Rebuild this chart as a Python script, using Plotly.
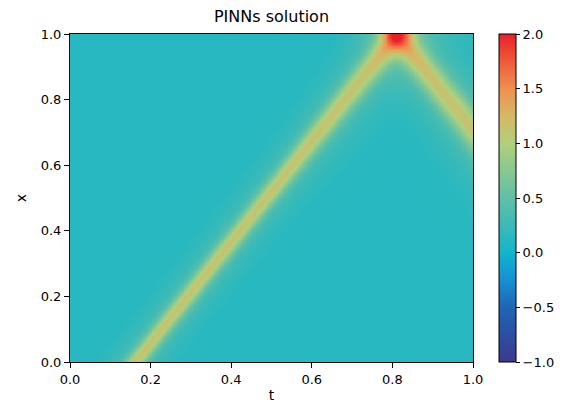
import numpy as np
import plotly.graph_objects as go

# --- values ---
title_text = "PINNs solution"
x_label = "t"
y_label = "x"
tick_vals = [0.0, 0.2, 0.4, 0.6, 0.8, 1.0]
cbar_ticks = [-1.0, -0.5, 0.0, 0.5, 1.0, 1.5, 2.0]
z_min, z_max = -1.0, 2.0

# pulse track (incident front): t where it sits at x=0 and at x=1
track_t = [0.16, 0.81]
track_x = [0.0, 1.0]
pulse_amp = 0.8          # height of the travelling pulse
background = 0.13        # field value away from the pulse
halo_amp = 0.22          # faint broad halo around the pulse
# pulse half-width (in x) read at several times
width_t = [0.0, 0.5, 0.8, 1.0]
width_x = [0.026, 0.03, 0.043, 0.048]
halo_scale = 2.6

# matplotlib-like "rainbow" colour bar
cbar_colors = ["#3d3a8e", "#2b4fa0", "#1e66b4", "#1590d2", "#10b6cc", "#3cbab6",
               "#60c0a6", "#88c892", "#b0d07c", "#d6b866", "#f09050", "#ee5a3a", "#e8202a"]

# --- build grid ---
n = 241
t = np.linspace(0, 1, n)
x = np.linspace(0, 1, n)
T, X = np.meshgrid(t, x)
speed = (track_x[1] - track_x[0]) / (track_t[1] - track_t[0])
p1 = track_x[0] + speed * (T - track_t[0])   # incident
p2 = 2 * track_x[1] - p1                       # reflected at x=1
W = np.interp(T, width_t, width_x)

def bump(d, w):
    return np.exp(-0.5 * (d / w) ** 2)

Z = (background
     + pulse_amp * (bump(X - p1, W) + bump(X - p2, W))
     + halo_amp * (bump(X - p1, W * halo_scale) + bump(X - p2, W * halo_scale)))

cs = [[i / (len(cbar_colors) - 1), c] for i, c in enumerate(cbar_colors)]

font_family = "DejaVu Sans"
fig = go.Figure(go.Heatmap(
    x=t, y=x, z=Z, zmin=z_min, zmax=z_max, colorscale=cs, zsmooth="best",
    colorbar=dict(
        x=(499 - 70) / 403, xanchor="left", xref="paper", xpad=0, ypad=0,
        y=0, yanchor="bottom", len=1, lenmode="fraction",
        thickness=17, outlinewidth=1, outlinecolor="black",
        tickvals=cbar_ticks, tickformat=".1f", ticks="outside", ticklen=4,
        tickcolor="black", tickfont=dict(size=13, color="black", family=font_family),
    ),
))

axis_common = dict(
    range=[0, 1], tickvals=tick_vals, tickformat=".1f", ticks="outside", ticklen=5,
    tickcolor="black", showline=True, linecolor="black", linewidth=1, mirror=True,
    showgrid=False, zeroline=False,
    tickfont=dict(size=13, color="black", family=font_family),
)
fig.update_xaxes(title=dict(text=x_label, font=dict(size=14, color="black", family=font_family), standoff=4), **axis_common)
fig.update_yaxes(title=dict(text=y_label, font=dict(size=14, color="black", family=font_family), standoff=10), **axis_common)

fig.update_layout(
    width=566, height=408,
    margin=dict(l=70, r=93, t=34, b=46, autoexpand=False),
    paper_bgcolor="white", plot_bgcolor="white",
    title=dict(text=title_text, x=(70 + 473) / 2 / 566, xanchor="center",
               y=1 - 16 / 408, yanchor="middle",
               font=dict(size=16, color="black", family=font_family)),
)

fig.write_html("out.html")
